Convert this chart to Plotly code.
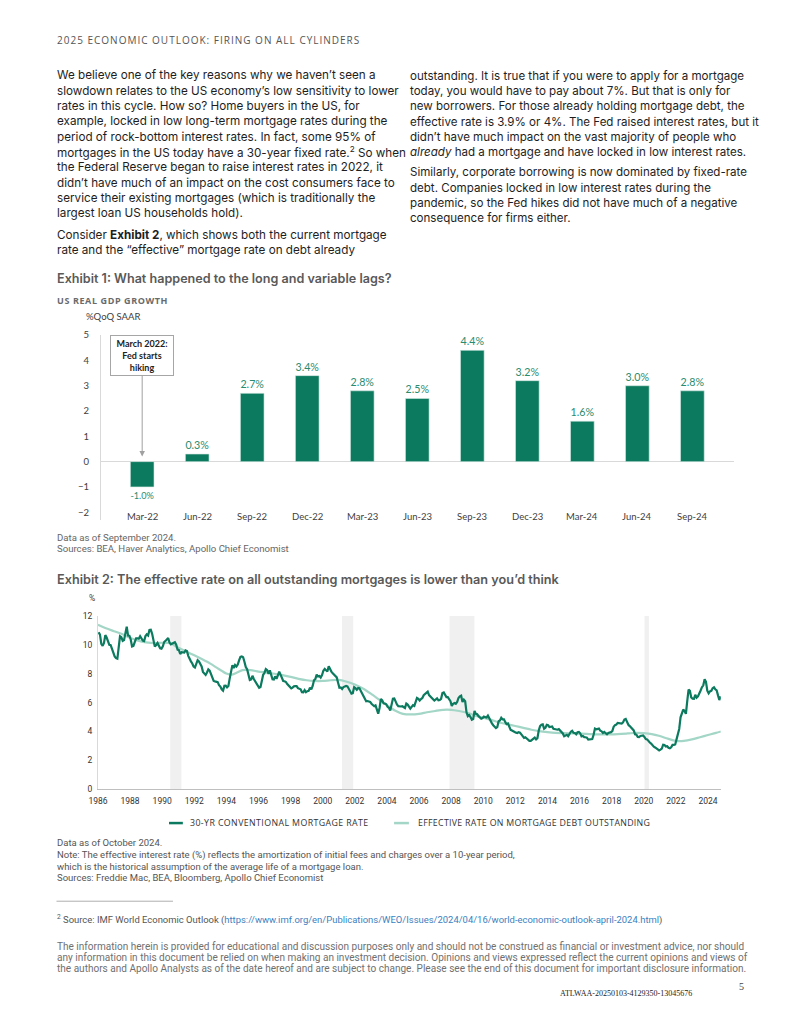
import plotly.graph_objects as go

# ---------------- DATA ----------------
gdp_quarters = ["Mar-22", "Jun-22", "Sep-22", "Dec-22", "Mar-23", "Jun-23",
                "Sep-23", "Dec-23", "Mar-24", "Jun-24", "Sep-24"]
gdp_growth = [-1.0, 0.3, 2.7, 3.4, 2.8, 2.5, 4.4, 3.2, 1.6, 3.0, 2.8]
gdp_yticks = [-2, -1, 0, 1, 2, 3, 4, 5]

# 30-yr conventional mortgage rate, monthly from Jan 1986 to Oct 2024
mortgage_start_year = 1986
rate_30yr = [
    10.88, 10.71, 10.08, 9.94, 10.14, 10.68, 10.51, 10.20, 10.01, 9.98, 9.70, 9.32,   # 1986
    9.20, 9.08, 9.04, 9.83, 10.60, 10.54, 10.28, 10.33, 10.89, 11.26, 10.65, 10.64,   # 1987
    10.38, 9.89, 9.93, 10.20, 10.46, 10.46, 10.43, 10.60, 10.48, 10.30, 10.27, 10.61, # 1988
    10.73, 10.65, 11.03, 11.05, 10.77, 10.20, 9.88, 9.99, 10.13, 9.95, 9.77, 9.74,    # 1989
    9.90, 10.20, 10.27, 10.37, 10.48, 10.16, 10.04, 10.10, 10.18, 10.18, 10.01, 9.67, # 1990
    9.64, 9.37, 9.50, 9.49, 9.47, 9.62, 9.58, 9.24, 9.01, 8.86, 8.71, 8.50,           # 1991
    8.43, 8.76, 8.94, 8.85, 8.67, 8.51, 8.13, 7.98, 7.92, 8.09, 8.31, 8.22,           # 1992
    7.99, 7.68, 7.50, 7.47, 7.47, 7.42, 7.21, 7.11, 6.92, 6.83, 7.16, 7.17,           # 1993
    7.06, 7.15, 7.68, 8.32, 8.60, 8.40, 8.61, 8.51, 8.64, 8.93, 9.17, 9.20,           # 1994
    9.15, 8.83, 8.46, 8.32, 7.96, 7.57, 7.61, 7.86, 7.64, 7.48, 7.38, 7.20,           # 1995
    7.03, 7.08, 7.62, 7.93, 8.07, 8.32, 8.25, 8.00, 8.23, 7.92, 7.62, 7.60,           # 1996
    7.82, 7.65, 7.90, 8.14, 7.94, 7.69, 7.50, 7.48, 7.43, 7.29, 7.21, 7.10,           # 1997
    6.99, 7.04, 7.13, 7.14, 7.14, 7.00, 6.95, 6.92, 6.72, 6.71, 6.87, 6.72,           # 1998
    6.79, 6.81, 7.04, 6.92, 7.15, 7.55, 7.63, 7.94, 7.82, 7.85, 7.74, 7.91,           # 1999
    8.21, 8.33, 8.24, 8.15, 8.52, 8.29, 8.15, 8.03, 7.91, 7.80, 7.75, 7.38,           # 2000
    7.03, 7.05, 6.95, 7.08, 7.15, 7.16, 7.13, 6.95, 6.82, 6.62, 6.66, 7.07,           # 2001
    7.00, 6.89, 7.01, 6.99, 6.81, 6.65, 6.49, 6.29, 6.09, 6.11, 6.07, 6.05,           # 2002
    5.92, 5.84, 5.75, 5.81, 5.48, 5.23, 5.63, 6.26, 6.15, 5.95, 5.93, 5.88,           # 2003
    5.71, 5.64, 5.45, 5.83, 6.27, 6.29, 6.06, 5.87, 5.75, 5.72, 5.73, 5.75,           # 2004
    5.71, 5.63, 5.93, 5.86, 5.72, 5.58, 5.70, 5.82, 5.77, 6.07, 6.33, 6.27,           # 2005
    6.15, 6.25, 6.32, 6.51, 6.60, 6.68, 6.76, 6.52, 6.40, 6.36, 6.24, 6.14,           # 2006
    6.22, 6.29, 6.16, 6.18, 6.26, 6.66, 6.70, 6.57, 6.38, 6.38, 6.21, 6.10,           # 2007
    5.76, 5.92, 5.97, 5.92, 6.04, 6.32, 6.43, 6.48, 6.04, 6.20, 6.09, 5.33,           # 2008
    5.06, 5.13, 5.00, 4.81, 4.86, 5.42, 5.22, 5.19, 5.06, 4.95, 4.88, 4.93,           # 2009
    5.03, 4.99, 4.97, 5.10, 4.89, 4.74, 4.56, 4.43, 4.35, 4.23, 4.30, 4.71,           # 2010
    4.76, 4.95, 4.84, 4.84, 4.64, 4.51, 4.55, 4.27, 4.11, 4.07, 3.99, 3.96,           # 2011
    3.92, 3.89, 3.95, 3.91, 3.80, 3.68, 3.55, 3.60, 3.50, 3.38, 3.35, 3.35,           # 2012
    3.41, 3.53, 3.57, 3.45, 3.54, 4.07, 4.37, 4.46, 4.49, 4.19, 4.26, 4.46,           # 2013
    4.43, 4.30, 4.34, 4.34, 4.19, 4.16, 4.13, 4.12, 4.16, 4.04, 4.00, 3.86,           # 2014
    3.67, 3.71, 3.77, 3.67, 3.84, 3.98, 4.05, 3.91, 3.89, 3.80, 3.94, 3.96,           # 2015
    3.87, 3.66, 3.69, 3.61, 3.60, 3.57, 3.44, 3.44, 3.46, 3.47, 3.77, 4.20,           # 2016
    4.15, 4.17, 4.20, 4.05, 4.01, 3.90, 3.97, 3.88, 3.81, 3.90, 3.92, 3.95,           # 2017
    4.03, 4.33, 4.44, 4.47, 4.59, 4.57, 4.53, 4.55, 4.63, 4.83, 4.87, 4.64,           # 2018
    4.46, 4.37, 4.27, 4.14, 4.07, 3.80, 3.77, 3.62, 3.61, 3.69, 3.70, 3.72,           # 2019
    3.62, 3.47, 3.45, 3.31, 3.23, 3.16, 3.02, 2.94, 2.89, 2.83, 2.77, 2.68,           # 2020
    2.74, 2.81, 3.08, 3.06, 2.96, 2.98, 2.87, 2.84, 2.90, 3.07, 3.07, 3.10,           # 2021
    3.45, 3.76, 4.17, 4.98, 5.23, 5.52, 5.41, 5.22, 6.11, 6.90, 6.81, 6.36,           # 2022
    6.27, 6.26, 6.54, 6.34, 6.43, 6.71, 6.84, 7.07, 7.20, 7.62, 7.44, 6.82,           # 2023
    6.64, 6.78, 6.82, 7.00, 7.06, 6.92, 6.85, 6.50, 6.18, 6.43,                       # 2024
]

# Effective rate on mortgage debt outstanding
eff_time = [1986.0, 1986.5, 1987.0, 1987.5, 1988.0, 1988.5, 1989.0, 1989.5, 1990.0, 1990.5,
            1991.0, 1991.5, 1992.0, 1992.5, 1993.0, 1993.5, 1994.0, 1994.35, 1994.7, 1995.0,
            1995.5, 1996.0, 1996.5, 1997.0, 1997.5, 1998.0, 1998.5, 1999.0, 1999.5, 2000.0,
            2000.5, 2001.0, 2001.5, 2002.0, 2002.5, 2003.0, 2003.5, 2004.0, 2004.5, 2005.0,
            2005.5, 2006.0, 2006.5, 2007.0, 2007.5, 2008.0, 2008.5, 2009.0, 2009.5, 2010.0,
            2010.5, 2011.0, 2011.5, 2012.0, 2012.5, 2013.0, 2013.5, 2014.0, 2014.5, 2015.0,
            2016.0, 2017.0, 2018.0, 2019.0, 2019.5, 2020.0, 2020.5, 2021.0, 2021.5, 2022.0,
            2022.5, 2023.0, 2023.5, 2024.0, 2024.5, 2024.8]
eff_rate = [11.40, 11.15, 10.95, 10.75, 10.50, 10.30, 10.18, 10.12, 10.15, 10.12,
            9.80, 9.55, 9.28, 9.00, 8.70, 8.35, 8.02, 7.94, 8.10, 8.25,
            8.25, 8.15, 8.08, 8.00, 7.90, 7.78, 7.65, 7.55, 7.50, 7.50,
            7.55, 7.58, 7.45, 7.25, 6.98, 6.62, 6.22, 5.82, 5.45, 5.22,
            5.18, 5.22, 5.33, 5.42, 5.50, 5.50, 5.42, 5.30, 5.10, 4.95,
            4.80, 4.62, 4.50, 4.38, 4.25, 4.12, 4.02, 3.95, 3.90, 3.88,
            3.85, 3.80, 3.80, 3.86, 3.90, 3.88, 3.82, 3.68, 3.50, 3.35,
            3.35, 3.45, 3.60, 3.75, 3.90, 4.00]

recession_start = [1990.5, 2001.2, 2007.9, 2020.05]
recession_end = [1991.2, 2001.9, 2009.45, 2020.32]

mort_xticks = list(range(1986, 2025, 2))
mort_yticks = [0, 2, 4, 6, 8, 10, 12]

# ---------------- PAGE GEOMETRY ----------------
# The page body keeps its default 8px margin, so the figure is 16px smaller than
# the window and every page coordinate is shifted by that margin.
PAGE_MARGIN = 8
W, H = 791 - 2 * PAGE_MARGIN, 1024 - 2 * PAGE_MARGIN
def px(x):
    return (x - PAGE_MARGIN) / W
def py(y):
    return 1 - (y - PAGE_MARGIN) / H

DARK = "#0b7a5e"
LIGHT = "#a3d6c6"
LABEL_GREEN = "#2a8c6f"
BODY = "Inter"
SMALL = "Roboto"
CH = "Lato"

def spaced(t, s):
    return "<span style='letter-spacing:%spx'>%s</span>" % (s, t)

fig = go.Figure()

# Exhibit 1 bars
fig.add_trace(go.Bar(
    x=list(range(len(gdp_quarters))), y=gdp_growth,
    marker=dict(color=DARK, line=dict(color="#d7ebe4", width=0.6)),
    width=0.43,
    texttemplate="%{y:.1f}%", textposition="outside",
    textfont=dict(family=CH, size=11, color=LABEL_GREEN),
    cliponaxis=False, xaxis="x", yaxis="y", showlegend=False,
))

# Exhibit 2 lines
mort_x = [mortgage_start_year + (i + 0.5) / 12 for i in range(len(rate_30yr))]
fig.add_trace(go.Scatter(
    x=eff_time, y=eff_rate, mode="lines", line=dict(color=LIGHT, width=2.2, shape="spline", smoothing=0.8),
    xaxis="x2", yaxis="y2", showlegend=False,
))
fig.add_trace(go.Scatter(
    x=mort_x, y=rate_30yr, mode="lines", line=dict(color=DARK, width=2.2),
    xaxis="x2", yaxis="y2", showlegend=False,
))

shapes = []
for s, e in zip(recession_start, recession_end):
    shapes.append(dict(type="rect", xref="x2", yref="y2", x0=s, x1=e, y0=0, y1=12,
                       fillcolor="#f0f0f0", line=dict(width=0), layer="below"))
# legend samples
shapes.append(dict(type="line", xref="paper", yref="paper", x0=px(161), x1=px(175), y0=py(826), y1=py(826),
                   line=dict(color=DARK, width=2.5)))
shapes.append(dict(type="line", xref="paper", yref="paper", x0=px(389), x1=px(404), y0=py(826), y1=py(826),
                   line=dict(color=LIGHT, width=2.5)))
# footnote rule
shapes.append(dict(type="line", xref="paper", yref="paper", x0=px(47), x1=px(165), y0=py(905), y1=py(905),
                   line=dict(color="#9a9a9a", width=0.8)))

ann = []
def text(t, x, y, size, color="#222", family=BODY, weight=None, xanchor="left", **kw):
    f = dict(family=family, size=size, color=color)
    if weight:
        f["weight"] = weight
    ann.append(dict(text=t, x=px(x), y=py(y), xref="paper", yref="paper", xanchor=xanchor,
                    yanchor="middle", showarrow=False, font=f, align="left", borderpad=0, **kw))

# header
text(spaced("2025 ECONOMIC OUTLOOK: FIRING ON ALL CYLINDERS", 1.0), 47, 34, 10, "#555", "Open Sans")

left_lines = [
    "We believe one of the key reasons why we haven\u2019t seen a",
    "slowdown relates to the US economy\u2019s low sensitivity to lower",
    "rates in this cycle. How so? Home buyers in the US, for",
    "example, locked in low long-term mortgage rates during the",
    "period of rock-bottom interest rates. In fact, some 95% of",
    "mortgages in the US today have a 30-year fixed rate.<sup>2</sup> So when",
    "the Federal Reserve began to raise interest rates in 2022, it",
    "didn\u2019t have much of an impact on the cost consumers face to",
    "service their existing mortgages (which is traditionally the",
    "largest loan US households hold).",
    "Consider <b>Exhibit 2</b>, which shows both the current mortgage",
    "rate and the \u201ceffective\u201d mortgage rate on debt already",
]
left_y = [70, 85.5, 101, 116.5, 132, 147.5, 163, 178.5, 194, 209.5, 231, 246.5]
for t, y in zip(left_lines, left_y):
    text(t, 47, y, 11.7, "#1e1e1e")

right_lines = [
    "outstanding. It is true that if you were to apply for a mortgage",
    "today, you would have to pay about 7%. But that is only for",
    "new borrowers. For those already holding mortgage debt, the",
    "effective rate is 3.9% or 4%. The Fed raised interest rates, but it",
    "didn\u2019t have much impact on the vast majority of people who",
    "<i>already</i> had a mortgage and have locked in low interest rates.",
    "Similarly, corporate borrowing is now dominated by fixed-rate",
    "debt. Companies locked in low interest rates during the",
    "pandemic, so the Fed hikes did not have much of a negative",
    "consequence for firms either.",
]
right_y = [70.5, 86, 101.5, 117, 132.5, 148, 168, 183.5, 199, 214.5]
for t, y in zip(right_lines, right_y):
    text(t, 404, y, 11.55, "#1e1e1e")

# Exhibit 1 texts
text("Exhibit 1: What happened to the long and variable lags?", 47, 275, 12.6, "#595959", "Inter", 600)
text(spaced("US REAL GDP GROWTH", 0.6), 47, 297.5, 9, "#6a6a6a", "Open Sans", 700)
text("%QoQ SAAR", 76, 314, 9.5, "#404040", CH)
text("Data as of September 2024.", 47, 537, 9.6, "#666", SMALL)
text("Sources: BEA, Haver Analytics, Apollo Chief Economist", 47, 548.5, 9.6, "#666", SMALL)

# category labels for Exhibit 1
for i, q in enumerate(gdp_quarters):
    ann.append(dict(text=q, x=i, y=py(516), xref="x", yref="paper", xanchor="center", yanchor="middle",
                    showarrow=False, font=dict(family=CH, size=9.5, color="#404040")))

# Fed annotation box with arrow
ann.append(dict(text="March 2022:<br>Fed starts<br>hiking", x=0, y=0.2, xref="x", yref="y",
                showarrow=True, arrowhead=2, arrowsize=1.1, arrowwidth=1, arrowcolor="#a0a0a0",
                ax=0, ay=-101, axref="pixel", ayref="pixel",
                bordercolor="#a6a6a6", borderwidth=1, borderpad=2, bgcolor="white",
                width=58, height=35, align="center",
                font=dict(family=CH, size=9, color="#222", weight=700)))

# Exhibit 2 texts
text("Exhibit 2: The effective rate on all outstanding mortgages is lower than you\u2019d think", 47, 579.5, 12.7,
     "#595959", "Inter", 600)
text("%", 79, 598, 8.5, "#404040", SMALL)
text(spaced("30-YR CONVENTIONAL MORTGAGE RATE", 0.4), 181, 826, 8.8, "#333", "Open Sans")
text(spaced("EFFECTIVE RATE ON MORTGAGE DEBT OUTSTANDING", 0.3), 412, 826, 8.8, "#333", "Open Sans")

notes2 = [
    "Data as of October 2024.",
    "Note: The effective interest rate (%) reflects the amortization of initial fees and charges over a 10-year period,",
    "which is the historical assumption of the average life of a mortgage loan.",
    "Sources: Freddie Mac, BEA, Bloomberg, Apollo Chief Economist",
]
for t, y in zip(notes2, [846, 858, 870, 881.5]):
    text(t, 47, y, 9.5, "#555", SMALL)

text("<sup>2</sup> Source: IMF World Economic Outlook (<span style='color:#3d7fc1'>https://www.imf.org/en/Publications/WEO/Issues/2024/04/16/world-economic-outlook-april-2024.html</span>)",
     47, 923.5, 9.45, "#555", SMALL)

disc = [
    "The information herein is provided for educational and discussion purposes only and should not be construed as financial or investment advice, nor should",
    "any information in this document be relied on when making an investment decision. Opinions and views expressed reflect the current opinions and views of",
    "the authors and Apollo Analysts as of the date hereof and are subject to change. Please see the end of this document for important disclosure information.",
]
for t, y in zip(disc, [950.5, 962, 973.5]):
    text(t, 47, y, 10.05, "#707070", SMALL)

text("5", 741, 991, 10, "#444", "Liberation Serif", xanchor="center")
text("ATLWAA-20250103-4129350-13045676", 624, 998.5, 8, "#222", "Liberation Serif", xanchor="center")

fig.update_layout(
    width=W, height=H, margin=dict(l=0, r=0, t=0, b=0),
    paper_bgcolor="white", plot_bgcolor="white",
    bargap=0.5,
    shapes=shapes, annotations=ann,
    xaxis=dict(domain=[px(92), px(733)], range=[-0.75, 10.75], showticklabels=False, showgrid=False,
               zeroline=False, showline=False, ticks="", fixedrange=True),
    yaxis=dict(domain=[py(519.4), py(332.7)], range=[-2.3, 5], tickvals=gdp_yticks, showgrid=False,
               zeroline=True, zerolinecolor="#d9d9d9", zerolinewidth=1.3,
               showline=True, linecolor="#d9d9d9", linewidth=1,
               ticks="outside", ticklen=9, tickcolor="rgba(0,0,0,0)",
               tickfont=dict(family=CH, size=9.5, color="#404040")),
    xaxis2=dict(domain=[px(89), px(720)], range=[1986.0, 2024.8], anchor="y2", tickvals=mort_xticks,
                tickformat="d", showgrid=False, zeroline=False, showline=True, linecolor="#bfbfbf", linewidth=1,
                ticks="outside", ticklen=4, tickcolor="rgba(0,0,0,0)",
                tickfont=dict(family=SMALL, size=8.5, color="#333")),
    yaxis2=dict(domain=[py(791.7), py(616.7)], range=[0, 12], anchor="x2", tickvals=mort_yticks,
                showgrid=False, zeroline=False, showline=True, linecolor="#d9d9d9", linewidth=1,
                ticks="outside", ticklen=3, tickcolor="rgba(0,0,0,0)",
                tickfont=dict(family=SMALL, size=8.5, color="#333")),
)

fig.write_html("out.html", config={"displayModeBar": False})
